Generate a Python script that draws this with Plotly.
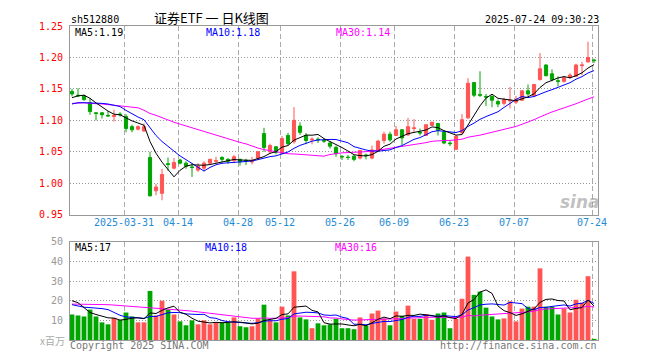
import plotly.graph_objects as go

# ---------------- data ----------------
dates = [
    "2025-03-18", "2025-03-19", "2025-03-20", "2025-03-21", "2025-03-24", "2025-03-25", "2025-03-26", "2025-03-27",
    "2025-03-28", "2025-03-31", "2025-04-01", "2025-04-02", "2025-04-03", "2025-04-07", "2025-04-08", "2025-04-09",
    "2025-04-10", "2025-04-11", "2025-04-14", "2025-04-15", "2025-04-16", "2025-04-17", "2025-04-18", "2025-04-21",
    "2025-04-22", "2025-04-23", "2025-04-24", "2025-04-25", "2025-04-28", "2025-04-29", "2025-04-30", "2025-05-06",
    "2025-05-07", "2025-05-08", "2025-05-09", "2025-05-12", "2025-05-13", "2025-05-14", "2025-05-15", "2025-05-16",
    "2025-05-19", "2025-05-20", "2025-05-21", "2025-05-22", "2025-05-23", "2025-05-26", "2025-05-27", "2025-05-28",
    "2025-05-29", "2025-05-30", "2025-06-03", "2025-06-04", "2025-06-05", "2025-06-06", "2025-06-09", "2025-06-10",
    "2025-06-11", "2025-06-12", "2025-06-13", "2025-06-16", "2025-06-17", "2025-06-18", "2025-06-19", "2025-06-20",
    "2025-06-23", "2025-06-24", "2025-06-25", "2025-06-26", "2025-06-27", "2025-06-30", "2025-07-01", "2025-07-02",
    "2025-07-03", "2025-07-04", "2025-07-07", "2025-07-08", "2025-07-09", "2025-07-10", "2025-07-11", "2025-07-14",
    "2025-07-15", "2025-07-16", "2025-07-17", "2025-07-18", "2025-07-21", "2025-07-22", "2025-07-23", "2025-07-24",
]

open_ = [
    1.146, 1.140, 1.139, 1.128, 1.112, 1.112, 1.108, 1.106, 1.110, 1.106, 1.090, 1.086, 1.083, 1.041, 0.988, 0.984,
    1.031, 1.024, 1.037, 1.032, 1.026, 1.021, 1.024, 1.032, 1.035, 1.041, 1.038, 1.036, 1.038, 1.0362, 1.034, 1.040,
    1.079, 1.050, 1.058, 1.047, 1.076, 1.066, 1.091, 1.076, 1.069, 1.070, 1.068, 1.064, 1.057, 1.0425, 1.0415, 1.043,
    1.040, 1.045, 1.040, 1.052, 1.068, 1.078, 1.076, 1.085, 1.077, 1.087, 1.081, 1.076, 1.092, 1.095, 1.081, 1.064,
    1.054, 1.080, 1.104, 1.160, 1.141, 1.138, 1.138, 1.130, 1.127, 1.131, 1.129, 1.132, 1.147, 1.139, 1.165, 1.188,
    1.174, 1.163, 1.162, 1.168, 1.170, 1.187, 1.193, 1.196,
]
high = [
    1.150, 1.151, 1.141, 1.135, 1.113, 1.113, 1.115, 1.117, 1.113, 1.110, 1.093, 1.092, 1.095, 1.050, 0.999, 1.023,
    1.041, 1.040, 1.039, 1.035, 1.032, 1.032, 1.035, 1.039, 1.042, 1.043, 1.040, 1.045, 1.039, 1.039, 1.042, 1.051,
    1.088, 1.063, 1.059, 1.075, 1.080, 1.121, 1.097, 1.080, 1.073, 1.073, 1.071, 1.067, 1.060, 1.045, 1.045, 1.045,
    1.053, 1.047, 1.060, 1.069, 1.082, 1.082, 1.091, 1.086, 1.104, 1.102, 1.087, 1.094, 1.098, 1.096, 1.083, 1.067,
    1.076, 1.110, 1.167, 1.161, 1.178, 1.142, 1.140, 1.133, 1.136, 1.153, 1.139, 1.148, 1.157, 1.158, 1.207, 1.189,
    1.181, 1.170, 1.170, 1.175, 1.190, 1.193, 1.225, 1.198,
]
low = [
    1.138, 1.137, 1.131, 1.109, 1.100, 1.103, 1.106, 1.098, 1.106, 1.081, 1.081, 1.084, 1.082, 0.979, 0.981, 0.973,
    1.020, 1.022, 1.030, 1.023, 1.010, 1.018, 1.019, 1.031, 1.031, 1.033, 1.031, 1.032, 1.028, 1.029, 1.030, 1.037,
    1.050, 1.047, 1.046, 1.047, 1.060, 1.063, 1.077, 1.062, 1.062, 1.064, 1.064, 1.055, 1.042, 1.037, 1.037, 1.035,
    1.038, 1.038, 1.038, 1.050, 1.063, 1.066, 1.075, 1.061, 1.075, 1.081, 1.076, 1.075, 1.091, 1.076, 1.062, 1.059,
    1.053, 1.079, 1.102, 1.137, 1.137, 1.123, 1.121, 1.121, 1.124, 1.119, 1.126, 1.131, 1.139, 1.137, 1.163, 1.170,
    1.162, 1.154, 1.160, 1.166, 1.169, 1.172, 1.192, 1.191,
]
close = [
    1.142, 1.139, 1.133, 1.114, 1.111, 1.109, 1.107, 1.108, 1.109, 1.087, 1.085, 1.090, 1.090, 0.980, 0.994, 1.014,
    1.030, 1.033, 1.032, 1.027, 1.025, 1.027, 1.032, 1.038, 1.036, 1.038, 1.035, 1.042, 1.034, 1.036, 1.035, 1.050,
    1.057, 1.060, 1.049, 1.071, 1.063, 1.100, 1.081, 1.068, 1.070, 1.069, 1.067, 1.059, 1.047, 1.042, 1.041, 1.038,
    1.052, 1.044, 1.053, 1.067, 1.078, 1.069, 1.085, 1.072, 1.090, 1.088, 1.080, 1.093, 1.097, 1.084, 1.064, 1.063,
    1.075, 1.101, 1.159, 1.140, 1.140, 1.137, 1.132, 1.126, 1.133, 1.132, 1.133, 1.147, 1.142, 1.157, 1.182, 1.171,
    1.165, 1.162, 1.168, 1.172, 1.188, 1.188, 1.200, 1.195,
]
# volume, millions
volume = [
    13.0, 12.5, 12.0, 15.5, 12.0, 9.0, 8.0, 11.3, 10.3, 14.0, 12.0, 9.0, 9.0, 25.0, 12.5, 20.0,
    15.5, 13.0, 9.5, 7.5, 10.0, 8.0, 10.0, 8.0, 9.0, 9.0, 9.0, 11.5, 7.0, 6.5, 7.0, 11.0,
    18.0, 10.0, 9.0, 17.0, 12.5, 35.0, 11.5, 10.5, 6.0, 8.5, 7.5, 8.0, 10.8, 6.0, 6.0, 5.5,
    11.5, 7.3, 13.5, 15.0, 11.0, 7.5, 14.5, 12.3, 17.5, 10.8, 10.8, 13.0, 10.3, 13.5, 14.0, 6.0,
    10.8, 21.0, 42.5, 23.0, 24.7, 16.5, 12.0, 10.5, 11.0, 19.7, 9.5, 16.0, 17.0, 17.0, 36.5, 17.0,
    17.0, 13.0, 16.0, 14.0, 20.5, 19.0, 32.5, 0.5,
]

# moving-average lines as drawn on the chart
ma5 = [
    1.136, 1.139, 1.140, 1.135, 1.1278, 1.1212, 1.1148, 1.1098, 1.1088, 1.1040, 1.0992, 1.0958, 1.0922, 1.0664, 1.0478, 1.0336,
    1.0216, 1.0102, 1.0206, 1.0272, 1.0294, 1.0288, 1.0286, 1.0298, 1.0316, 1.0342, 1.0358, 1.0378, 1.0370, 1.0370, 1.0364, 1.0394,
    1.0424, 1.0476, 1.0502, 1.0574, 1.0600, 1.0686, 1.0728, 1.0766, 1.0764, 1.0776, 1.0710, 1.0666, 1.0624, 1.0568, 1.0512, 1.0454,
    1.0440, 1.0434, 1.0456, 1.0508, 1.0588, 1.0622, 1.0704, 1.0742, 1.0788, 1.0808, 1.0830, 1.0846, 1.0896, 1.0884, 1.0836, 1.0802,
    1.0766, 1.0774, 1.0924, 1.1076, 1.1230, 1.1354, 1.1416, 1.1350, 1.1336, 1.1320, 1.1312, 1.1342, 1.1374, 1.1422, 1.1522, 1.1598,
    1.1634, 1.1674, 1.1696, 1.1676, 1.1710, 1.1756, 1.1832, 1.1886,
]
ma10 = [
    1.126, 1.128, 1.128, 1.128, 1.128, 1.127, 1.126, 1.124, 1.122, 1.1159, 1.1102, 1.1053, 1.1010, 1.0876, 1.0759, 1.0664,
    1.0587, 1.0512, 1.0435, 1.0375, 1.0315, 1.0252, 1.0194, 1.0252, 1.0294, 1.0318, 1.0323, 1.0332, 1.0334, 1.0343, 1.0353, 1.0376,
    1.0401, 1.0423, 1.0436, 1.0469, 1.0497, 1.0555, 1.0602, 1.0634, 1.0669, 1.0688, 1.0698, 1.0697, 1.0695, 1.0666, 1.0644, 1.0582,
    1.0553, 1.0529, 1.0512, 1.0510, 1.0521, 1.0531, 1.0569, 1.0599, 1.0648, 1.0698, 1.0726, 1.0775, 1.0819, 1.0836, 1.0822, 1.0816,
    1.0806, 1.0835, 1.0904, 1.0956, 1.1016, 1.1060, 1.1095, 1.1137, 1.1206, 1.1275, 1.1333, 1.1379, 1.1362, 1.1379, 1.1421, 1.1455,
    1.1488, 1.1524, 1.1559, 1.1599, 1.1654, 1.1695, 1.1753, 1.1791,
]
ma30 = [
    1.127, 1.128, 1.128, 1.127, 1.127, 1.126, 1.125, 1.124, 1.123, 1.122, 1.121, 1.120, 1.116, 1.111, 1.108, 1.104,
    1.100, 1.097, 1.094, 1.091, 1.088, 1.085, 1.083, 1.080, 1.077, 1.074, 1.071, 1.068, 1.065, 1.0626, 1.0590, 1.0560,
    1.0535, 1.0517, 1.0496, 1.0484, 1.0469, 1.0466, 1.0457, 1.0451, 1.0446, 1.0439, 1.0431, 1.0457, 1.0475, 1.0484, 1.0488, 1.0490,
    1.0496, 1.0502, 1.0511, 1.0525, 1.0540, 1.0550, 1.0567, 1.0578, 1.0596, 1.0612, 1.0627, 1.0646, 1.0667, 1.0678, 1.0680, 1.0681,
    1.0690, 1.0700, 1.0732, 1.0745, 1.0765, 1.0788, 1.0809, 1.0828, 1.0850, 1.0874, 1.0903, 1.0938, 1.0971, 1.1011, 1.1054, 1.1097,
    1.1134, 1.1166, 1.1196, 1.1230, 1.1264, 1.1303, 1.1340, 1.1375,
]
vma5 = [
    20.0, 19.0, 16.5, 14.0, 13.0, 12.2, 11.3, 11.16, 10.12, 10.52, 11.12, 11.32, 10.86, 13.8, 13.5, 15.1,
    16.4, 17.2, 14.1, 13.1, 11.1, 9.6, 9.0, 8.7, 9.0, 8.8, 9.0, 9.3, 9.1, 8.6, 8.2, 8.6,
    9.9, 10.5, 11.0, 13.0, 13.3, 16.7, 17.0, 17.3, 15.1, 14.3, 8.8, 8.1, 8.16, 8.16, 7.66, 7.26,
    7.96, 7.26, 8.76, 10.56, 11.66, 10.86, 12.3, 12.06, 12.56, 12.52, 13.18, 12.88, 12.48, 11.68, 12.32, 11.36,
    10.92, 13.06, 18.86, 20.66, 24.4, 25.54, 23.74, 17.34, 14.94, 13.94, 12.54, 13.34, 14.64, 15.84, 19.2, 20.7,
    20.9, 20.1, 19.9, 15.4, 16.1, 16.5, 20.4, 17.3,
]
vma10 = [
    18.0, 17.2, 16.7, 16.5, 16.3, 16.0, 15.5, 14.0, 12.6, 11.76, 11.66, 11.31, 11.01, 11.96, 12.01, 13.11,
    13.86, 14.03, 13.95, 13.3, 13.1, 13.0, 13.1, 11.4, 11.05, 9.95, 9.3, 9.15, 8.9, 8.8, 8.5, 8.8,
    9.6, 9.8, 9.8, 10.6, 10.95, 13.3, 13.75, 14.15, 14.05, 13.8, 12.75, 12.55, 12.73, 11.63, 10.98, 8.03,
    8.03, 7.71, 8.46, 9.11, 9.46, 9.41, 9.78, 10.41, 11.56, 12.09, 12.02, 12.59, 12.27, 12.12, 12.42, 12.27,
    11.9, 12.77, 15.27, 16.49, 17.88, 18.23, 18.4, 18.1, 17.8, 19.17, 19.04, 18.54, 15.99, 15.39, 16.57, 16.62,
    17.12, 17.37, 17.87, 17.3, 18.4, 18.7, 20.25, 18.6,
]
vma30 = [
    18.3, 18.3, 18.3, 18.3, 18.2, 18.1, 18.0, 17.8, 17.6, 17.4, 17.2, 17.0, 16.7, 16.5, 16.3, 16.1,
    15.9, 15.7, 15.4, 15.0, 14.7, 14.3, 13.9, 13.5, 13.2, 12.9, 12.6, 12.2, 11.7, 11.29, 11.09, 11.04,
    11.24, 11.05, 10.95, 11.22, 11.37, 12.16, 12.2, 12.08, 11.88, 11.87, 11.82, 11.25, 11.19, 10.73, 10.41, 10.16,
    10.23, 10.22, 10.34, 10.57, 10.60, 10.59, 10.77, 10.88, 11.16, 11.14, 11.27, 11.48, 11.59, 11.68, 11.54, 11.41,
    11.47, 11.60, 12.60, 12.20, 12.64, 12.84, 13.04, 13.11, 13.23, 13.62, 13.57, 13.91, 14.27, 14.66, 15.49, 15.81,
    15.93, 15.86, 16.03, 16.25, 16.45, 16.67, 17.17, 16.83,
]

tick_dates = ["2025-03-31", "2025-04-14", "2025-04-28", "2025-05-12", "2025-05-26",
              "2025-06-09", "2025-06-23", "2025-07-07", "2025-07-24"]
tick_text = ["2025-03-31", "04-14", "04-28", "05-12", "05-26", "06-09", "06-23", "07-07", "07-24"]
price_ticks = [0.95, 1.00, 1.05, 1.10, 1.15, 1.20, 1.25]
vol_ticks = [10, 20, 30, 40, 50]

# ---------------- styling ----------------
RED = "#ff5555"
GREEN = "#00a600"
GRID = "#aaaaaa"
FRAME = "#999999"
TICKBLUE = "#1f8bd6"
MONO = "DejaVu Sans Mono"
CJK = "Noto Sans CJK SC"

# the page body has an 8px default margin; plot area sits at page x 70..598, y 20..340
PAGE_OFF = 8
W, H = 660 - PAGE_OFF, 360 - PAGE_OFF

n = len(dates)
xs = list(range(n))
tickpos = [dates.index(d) - 1.0 / 3.0 for d in tick_dates]
vol_colors = [RED if c > o else GREEN for o, c in zip(open_, close)]

fig = go.Figure()
fig.add_trace(go.Candlestick(
    x=xs, open=open_, high=high, low=low, close=close,
    increasing=dict(line=dict(color=RED, width=1), fillcolor=RED),
    decreasing=dict(line=dict(color=GREEN, width=1), fillcolor=GREEN),
    whiskerwidth=0, xaxis="x", yaxis="y", showlegend=False, hoverinfo="skip",
))
for ys, col in [(ma30, "#ff00ff"), (ma10, "#0000ff"), (ma5, "#000000")]:
    fig.add_trace(go.Scatter(x=xs, y=ys, mode="lines", line=dict(color=col, width=1),
                             xaxis="x", yaxis="y", showlegend=False, hoverinfo="skip"))

fig.add_trace(go.Bar(x=xs, y=volume, marker=dict(color=vol_colors, line=dict(width=0)),
                     width=0.8, xaxis="x2", yaxis="y2", showlegend=False, hoverinfo="skip"))
for ys, col in [(vma30, "#ff00ff"), (vma10, "#0000ff"), (vma5, "#000000")]:
    fig.add_trace(go.Scatter(x=xs, y=ys, mode="lines", line=dict(color=col, width=1),
                             xaxis="x2", yaxis="y2", showlegend=False, hoverinfo="skip"))

xr = [-1.0 / 3.0, n - 1.0 / 3.0]
common_x = dict(range=xr, showgrid=True, gridcolor=GRID, griddash="5px,3px", gridwidth=1,
                showline=True, mirror=True, linecolor=FRAME, linewidth=1, zeroline=False,
                ticks="", tickvals=tickpos, ticktext=tick_text, fixedrange=True)
common_y = dict(showgrid=True, gridcolor="#999999", griddash="1px,2px", showline=True, mirror=True,
                linecolor=FRAME, linewidth=1, zeroline=False, ticks="", ticklabelstandoff=4,
                fixedrange=True)
fig.update_layout(
    width=W, height=H,
    margin=dict(l=70 - PAGE_OFF, r=W - (598 - PAGE_OFF), t=20 - PAGE_OFF, b=H - (340 - PAGE_OFF)),
    paper_bgcolor="white", plot_bgcolor="white",
    showlegend=False, boxgap=0.25,
    xaxis=dict(**common_x, domain=[0, 1], anchor="y", rangeslider=dict(visible=False),
               ticklabelstandoff=-2,
               tickfont=dict(family=MONO, size=10, color=TICKBLUE)),
    xaxis2=dict(**common_x, domain=[0, 1], anchor="y2", matches="x", showticklabels=False),
    yaxis=dict(**common_y, domain=[0.399, 1], anchor="x", range=[0.95, 1.25], tickvals=price_ticks,
               ticktext=["%.2f" % v for v in price_ticks],
               tickfont=dict(family=MONO, size=10, color="#ff0000")),
    yaxis2=dict(**common_y, domain=[0, 0.3125], anchor="x2", range=[0, 50], tickvals=vol_ticks,
                tickfont=dict(family=MONO, size=10, color="#999999")),
)


def px_x(x):
    return (x - 70) / 528.0


def px_y(y):
    return (340 - y) / 320.0


def note(text, x, y, anchor="left", color="#000000", size=10, family=MONO):
    fig.add_annotation(text=text, x=px_x(x), y=px_y(y), xref="paper", yref="paper",
                       xanchor=anchor, yanchor="middle", showarrow=False, borderpad=0,
                       font=dict(family=family, size=size, color=color))


note("sh512880", 70, 13)
note("证券ETF 一 日K线图", 211, 11.5, anchor="center", size=13, family=CJK)
note("2025-07-24 09:30:23", 600, 13, anchor="right")
note("MA5:%.2f" % ma5[-1], 74, 27)
note("MA10:%.2f" % ma10[-1], 205, 27, color="#0000ff")
note("MA30:%.2f" % ma30[-1], 335, 27, color="#ff00ff")
note("MA5:%d" % int(vma5[-1]), 74, 246)
note("MA10:%d" % int(vma10[-1]), 204, 246, color="#0000ff")
note("MA30:%d" % int(vma30[-1]), 334, 246, color="#ff00ff")
note("x百万", 66, 340, anchor="right", color="#aaaaaa", size=10, family=CJK)
note("Copyright 2025 SINA.COM", 69, 346, color="#777777")
note("http://finance.sina.com.cn", 598, 346, anchor="right", color="#777777")
note("<b><i>sina</i></b>", 580, 199, anchor="center", color="rgba(140,140,140,0.55)", size=17,
     family="DejaVu Sans")

fig.write_html("out.html")
